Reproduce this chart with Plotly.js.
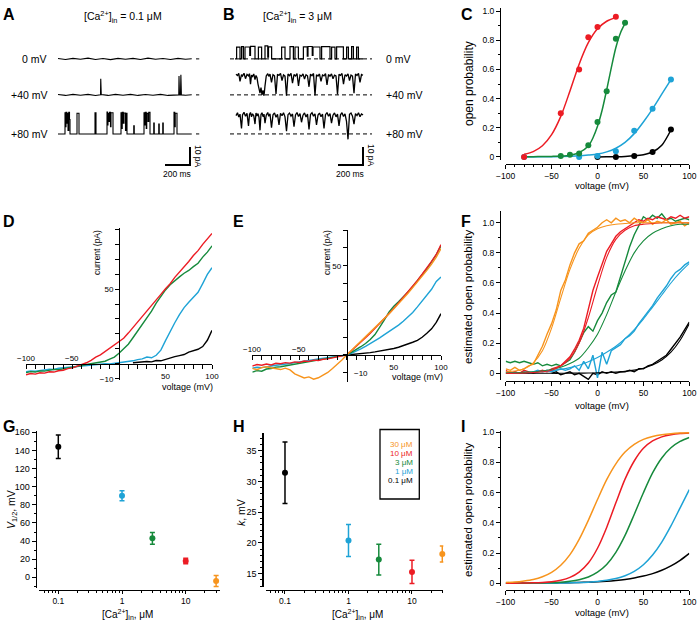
<!DOCTYPE html>
<html>
<head>
<meta charset="utf-8">
<script src="https://cdn.plot.ly/plotly-3.0.1.min.js"></script>
<style>
  html, body { margin: 0; padding: 0; background: #fff; }
  #fig { width: 697px; height: 623px; }
</style>
</head>
<body>
<div id="fig"></div>
<script>
// colours used by every panel
const BLACK = '#000000', CYAN = '#1ea3d6', GREEN = '#168a3c', RED = '#ec1c24', ORANGE = '#f7941d';

// ---- A: single channel records, [Ca2+]in = 0.1 uM (time ms, current pA) ----
const A_T0 = [0, 60, 120, 180, 240, 300, 360, 420, 480, 540, 600, 660, 720, 780, 840, 900, 960, 1020, 1070];
const A_I0 = [0.2, -0.3, 0.3, -0.2, 0.4, -0.3, 0.2, -0.4, 0.3, -0.2, 0.3, -0.3, 0.4, -0.2, 0.2, -0.3, 0.3, -0.2, 0.1];
const A_T40 = [0, 60, 120, 180, 240, 300, 340, 342, 346, 400, 460, 520, 580, 640, 700, 760, 820, 880, 940, 966, 968, 972, 980, 983, 987, 1020, 1070];
const A_I40 = [0.2, -0.3, 0.3, -0.2, 0.3, -0.3, 0.1, 8.9, 0.2, -0.3, 0.3, -0.2, 0.3, -0.3, 0.2, -0.2, 0.3, -0.3, 0.2, 0.0, 10.5, 0.1, 0.0, 11.2, 0.0, -0.2, 0.1];
const A_T80 = [0, 56, 60, 64, 70, 74, 80, 86, 92, 96, 152, 168, 296, 304, 392, 396, 400, 408, 412, 420,
  424, 440, 504, 510, 514, 522, 528, 540, 544, 552, 606, 610, 688, 694, 698, 706, 710, 720, 726, 736,
  766, 770, 806, 810, 838, 842, 928, 934, 938, 952, 1070];
const A_I80 = [0, 11.7, 4, 12, 6, 11.5, 2, 12, 8, 0, 11.5, 0, 11.8, 0, 12.2, 5, 11.5, 7, 12, 4,
  11.8, 0, 11.8, 3, 12, 6, 11.6, 2, 11.5, 0, 4.5, 0, 11.8, 5, 12, 3, 11.4, 7, 12, 0,
  6, 0, 5.5, 0, 6, 0, 12, 4, 11.5, 0, 0];

// ---- B: single channel records, [Ca2+]in = 3 uM ----
const B_T0 = [0, 13, 40, 53, 67, 80, 118, 124, 160, 187, 213, 240, 262, 268, 293, 373, 400, 440, 467, 480,
  507, 547, 578, 584, 618, 624, 680, 693, 760, 773, 800, 813, 867, 893, 907, 933, 947, 973, 987, 1024];
const B_I0 = [0, 6.5, 0, 6.8, 0, 6.6, 2, 7, 0, 6.5, 0, 7.2, 1, 6.7, 0, 6.5, 0, 6.8, 0, 6.6,
  0, 6.7, 1.5, 6.9, 2, 6.6, 0, 6.8, 0, 6.5, 0, 6.7, 0, 6.5, 0, 6.8, 0, 6.5, 0, 0];
const B_T = [8, 20, 30, 40, 52, 60, 72, 84, 96, 108, 116, 124, 132, 140, 150, 160, 168, 176, 184, 192,
  200, 208, 216, 224, 232, 240, 250, 262, 270, 280, 292, 304, 316, 328, 340, 352, 364, 376, 388, 400,
  412, 424, 436, 448, 460, 472, 484, 496, 508, 520, 532, 544, 556, 568, 580, 592, 604, 616, 628, 640,
  652, 664, 676, 688, 700, 712, 724, 736, 748, 760, 772, 784, 796, 808, 820, 832, 844, 856, 868, 880,
  892, 904, 916, 928, 940, 952, 964, 976, 988, 1000, 1012, 1024];
const B_I40 = [11.5, 10.8, 11.9, 7.5, 11.2, 10.5, 12, 9, 11.4, 10.6, 11.8, 6, 11, 10.2, 11.6, 8.5, 10.8, 9.5, 6, 3,
  1, 4, 0, 2.5, -0.5, 5, 10.5, 11.8, 10.3, 11.5, 7, 11.2, 10.6, 0.5, 11.4, 10.8, 11.9, 8, 11.1, 10.4,
  -0.5, 11.6, 10.7, 11.9, 6.5, 11.3, 10.5, 11.8, 5, 11, 10.4, 11.7, 8.8, 11.2, 10.6, 4.5, 11.5, 10.7, 11.9, -0.3,
  11.2, 10.5, 11.6, 7.5, 11.1, 10.6, 11.8, 5.5, 11.3, 10.4, 11.7, 9, 11, 10.5, 0.2, 11.4, 10.8, 11.9, 6, 11.2,
  10.5, 11.7, 8, 11, 10.4, 1, 11.6, 10.8, 11.9, 7, 11.3, 10.9];
const B_I80 = [10.2, 11.8, 9.4, 11, 3, 10.6, 12, 9.8, 11.4, 4.5, 10.8, 11.9, 9.5, 11.2, 10.1, 5.5, 11.6, 10, 11.3, 9.2,
  2, 10.8, 11.8, 9.6, 11, 6, 10.4, 11.9, 9.8, 11.2, 3.5, 10.6, 11.7, 9.3, 10.9, 5, 11.5, 10.1, 11.8, 9.5,
  1.5, 10.7, 11.6, 9.9, 11.1, 4, 10.5, 11.9, 9.7, 11.3, 6.5, 10.4, 11.7, 9.4, 11, 2.5, 10.8, 11.8, 9.9, 11.2,
  5, 10.5, 11.6, 9.6, 11.1, 3, 10.7, 11.9, 9.8, 11.3, 6, 10.4, 11.7, 9.5, 11, 4.5, 10.6, 11.8, 9.7, 11.2,
  7, -3, 10.9, 11.6, 9.9, 5.5, 11.3, 10.2, 11.8, 9.6, 11.1, 10.5];
const REC_LABELS = ['0 mV', '+40 mV', '+80 mV'];
const SCALE_MS = 200, SCALE_PA = 10;

// ---- C: open probability vs voltage ----
const C_V_RED = [-80, -40, -20, -10, 0, 20];
const C_P_RED = [0, 0.30, 0.60, 0.82, 0.89, 0.96];
const C_V_GREEN = [-40, -30, -20, -10, 0, 10, 20, 30];
const C_P_GREEN = [0.007, 0.016, 0.023, 0.08, 0.24, 0.45, 0.81, 0.92];
const C_V_CYAN = [-80, -20, 0, 20, 40, 60, 80];
const C_P_CYAN = [0, 0, 0.007, 0.04, 0.18, 0.33, 0.53];
const C_V_BLACK = [0, 20, 40, 60, 80];
const C_P_BLACK = [0, 0, 0.007, 0.034, 0.188];
const C_FIT_V_RED = [-80, -70, -60, -50, -40, -30, -20, -10, 0, 10, 20];
const C_FIT_RED = [0.018, 0.037, 0.077, 0.153, 0.278, 0.452, 0.636, 0.783, 0.878, 0.93, 0.956];
const C_FIT_V_GREEN = [-80, -70, -60, -50, -40, -30, -20, -10, -5, 0, 5, 10, 15, 20, 25, 30];
const C_FIT_GREEN = [0.001, 0.002, 0.003, 0.004, 0.006, 0.012, 0.03, 0.075, 0.13, 0.21, 0.32, 0.46, 0.61, 0.75, 0.85, 0.915];
const C_FIT_V_CYAN = [-80, -60, -40, -20, -10, 0, 10, 20, 30, 40, 50, 60, 70, 80];
const C_FIT_CYAN = [0, 0.001, 0.003, 0.008, 0.013, 0.02, 0.035, 0.06, 0.1, 0.16, 0.24, 0.33, 0.43, 0.53];
const C_FIT_V_BLACK = [0, 10, 20, 30, 40, 50, 60, 70, 80];
const C_FIT_BLACK = [0, 0.001, 0.002, 0.004, 0.008, 0.016, 0.034, 0.08, 0.185];

// ---- D, E, F: ramp currents, sampled every 5 mV ----
const V5 = [-100, -95, -90, -85, -80, -75, -70, -65, -60, -55, -50, -45, -40, -35, -30, -25, -20, -15, -10, -5,
  0, 5, 10, 15, 20, 25, 30, 35, 40, 45, 50, 55, 60, 65, 70, 75, 80, 85, 90, 95, 100];
const D_RED = [-7.2, -6.4, -6.8, -5.9, -6.1, -5.2, -5.4, -4.5, -4.2, -3.1, -2.6, -1.5, -0.6, 0.8, 2.4, 4.6, 6.1, 8.3, 10.2, 12.1,
  14.3, 17.1, 20.6, 24.2, 27.8, 31.3, 35.6, 39.1, 42.6, 46.4, 50.2, 53.5, 57.8, 61.1, 64.9, 68.4, 72.3, 75.6, 79.8, 83.4, 87.1];
const D_GREEN = [-5.8, -5.1, -5.4, -4.6, -4.8, -4.1, -3.6, -3.9, -3.0, -2.6, -2.2, -1.4, -1.1, -0.4, 0.2, 0.5, 1.3, 1.8, 3.2, 4.6,
  7.1, 10.4, 13.2, 17.5, 21.8, 26.4, 30.9, 35.2, 40.6, 45.3, 49.4, 52.8, 55.6, 58.1, 60.5, 62.4, 64.9, 67.2, 71.3, 74.6, 78.8];
const D_CYAN = [-5.2, -4.6, -4.9, -4.2, -4.0, -3.5, -3.7, -2.9, -2.6, -2.3, -1.9, -1.6, -1.2, -1.0, -0.7, -0.5, -0.2, 0.1, 0.0, 0.4,
  0.6, 1.0, 1.6, 2.1, 2.9, 3.4, 4.6, 4.1, 5.8, 9.2, 15.6, 21.8, 27.5, 32.9, 37.6, 41.2, 44.5, 47.8, 53.6, 59.7, 64.2];
const D_BLACK = [0.8, 1.1, 0.9, 1.6, 1.4, 2.3, 2.1, 3.2, 3.8, 4.9, 5.6, 6.3, 7.9, 8.6, 9.8, 11.6, 15.8, 22.4];  // 15..100 mV

const E_RED = [-6.2, -5.4, -5.8, -5.1, -5.6, -4.7, -4.9, -4.3, -4.6, -3.9, -4.2, -3.4, -3.6, -2.9, -3.1, -2.4, -2.2, -1.6, -1.2, -0.5,
  0, 2.3, 4.6, 7.1, 9.6, 12.2, 14.8, 17.5, 20.3, 23.2, 26.1, 29.2, 32.1, 35.4, 38.6, 41.8, 45.2, 48.6, 52.4, 56.3, 61.8];
const E_ORANGE = [-7.5, -8.3, -7.1, -6.6, -7.2, -7.6, -8.2, -7.4, -8.4, -10.6, -11.8, -12.9, -12.3, -13.6, -12.8, -11.4, -9.8, -7.6, -5.4, -2.8,
  0, 2.8, 5.2, 7.6, 10.1, 12.6, 15.1, 17.8, 20.4, 23.1, 25.8, 28.6, 31.5, 34.6, 37.7, 40.8, 44.1, 47.4, 50.9, 54.8, 59.6];
const E_GREEN = [-9.6, -8.8, -9.1, -7.9, -7.6, -6.8, -6.6, -6.1, -5.8, -5.2, -4.9, -4.3, -4.0, -3.4, -2.9, -2.4, -1.9, -1.4, -0.9, -0.4,
  0, 1.4, 2.9, 4.6, 6.4, 8.6, 11.4, 15.2, 19.6, 24.1, 27.3, 29.8, 32.4, 35.3, 38.2, 41.4, 44.8, 48.3, 52.1, 56.2, 61.1];
const E_CYAN = [-7.4, -6.9, -7.1, -6.5, -6.2, -5.8, -5.6, -5.1, -4.8, -4.3, -4.0, -3.6, -3.2, -2.7, -2.3, -1.9, -1.4, -1.0, -0.7, -0.3,
  0, 0.9, 2.0, 3.4, 4.8, 6.3, 7.9, 9.6, 11.4, 13.1, 14.8, 16.7, 18.9, 21.2, 23.8, 26.9, 30.2, 33.4, 36.8, 41.2, 43.6];
const E_BLACK = [0, 0.2, 0.4, 0.6, 0.9, 1.3, 1.7, 2.1, 2.5, 3.0, 3.6, 4.3, 5.1, 6.0, 7.1, 8.2, 9.9, 12.1, 14.6, 18.2, 23.1];  // 0..100 mV

const F_ORANGE = [0.03, 0.02, 0.04, 0.02, 0.03, 0.05, 0.06, 0.12, 0.18, 0.26, 0.33, 0.42, 0.55, 0.62, 0.72, 0.80, 0.86, 0.88, 0.93, 0.95,
  0.97, 1.0, 1.02, 1.0, 1.03, 1.01, 1.02, 1.0, 1.03, 1.01, 1.0, 1.02, 0.99, 1.01, 1.0, 1.02, 0.99, 1.0, 1.01, 0.98, 1.0];
const F_RED = [0.02, 0.0, 0.01, 0.0, 0.02, 0.01, 0.0, 0.01, 0.02, 0.01, 0.03, 0.04, 0.05, 0.08, 0.11, 0.16, 0.22, 0.30, 0.42, 0.55,
  0.64, 0.72, 0.81, 0.86, 0.91, 0.94, 0.96, 0.98, 1.0, 1.02, 1.01, 1.03, 1.02, 1.04, 1.03, 1.02, 1.04, 1.03, 1.05, 1.03, 1.04];
const F_GREEN = [0.08, 0.07, 0.08, 0.07, 0.08, 0.07, 0.06, 0.07, 0.05, 0.06, 0.05, 0.06, 0.05, 0.07, 0.09, 0.14, 0.21, 0.27, 0.31, 0.28,
  0.35, 0.40, 0.47, 0.52, 0.54, 0.64, 0.74, 0.84, 0.92, 0.98, 1.04, 1.02, 1.05, 1.03, 1.06, 1.02, 1.03, 1.01, 1.02, 1.03, 1.02];
const F_CYAN = [0.01, 0.0, 0.01, 0.0, 0.01, 0.0, 0.01, 0.02, 0.01, 0.02, 0.01, 0.02, 0.03, 0.02, 0.03, 0.05, 0.02, 0.08, 0.03, 0.12,
  -0.03, 0.14, 0.06, 0.15, 0.17, 0.19, 0.23, 0.25, 0.28, 0.33, 0.37, 0.41, 0.45, 0.50, 0.54, 0.58, 0.63, 0.67, 0.69, 0.72, 0.74];
const F_BLACK = [0.0, 0.01, -0.01, 0.0, 0.01, -0.01, 0.0, -0.02, -0.04, 0.0, -0.01, 0.01, 0.0, 0.01, 0.0, 0.01, 0.01, 0.02, 0.01, 0.03,
  0.03, 0.05, 0.06, 0.08, 0.1, 0.12, 0.16, 0.2, 0.24, 0.29, 0.34];  // -50..100 mV

// ---- F and I: fitted curves, sampled every 10 mV ----
const V10 = [-100, -90, -80, -70, -60, -50, -40, -30, -20, -10, 0, 10, 20, 30, 40, 50, 60, 70, 80, 90, 100];
const F_FIT_ORANGE = [0.01, 0.015, 0.03, 0.07, 0.15, 0.3, 0.5, 0.69, 0.83, 0.92, 0.96, 0.98, 0.99, 0.995, 1, 1, 1, 1, 1, 1, 1];
const F_FIT_RED = [0, 0, 0.002, 0.005, 0.01, 0.02, 0.05, 0.1, 0.2, 0.37, 0.58, 0.77, 0.89, 0.95, 0.98, 0.99, 0.995, 1, 1, 1, 1];
const F_FIT_GREEN = [0.003, 0.004, 0.006, 0.01, 0.015, 0.025, 0.04, 0.065, 0.1, 0.17, 0.26, 0.39, 0.54, 0.68, 0.8, 0.88, 0.93, 0.96, 0.98, 0.99, 0.99];
const F_FIT_CYAN = [0.002, 0.003, 0.005, 0.008, 0.012, 0.018, 0.026, 0.038, 0.054, 0.077, 0.105, 0.14, 0.18, 0.23, 0.29, 0.36, 0.44, 0.52, 0.6, 0.67, 0.73];
const F_FIT_BLACK = [0, 0, 0, 0, 0, 0, 0, 0.001, 0.001, 0.002, 0.003, 0.005, 0.008, 0.013, 0.021, 0.034, 0.055, 0.088, 0.14, 0.22, 0.33];

const I_ORANGE = [0.005, 0.008, 0.015, 0.025, 0.043, 0.072, 0.119, 0.19, 0.291, 0.417, 0.555, 0.686, 0.791, 0.869, 0.92, 0.953, 0.972, 0.984, 0.991, 0.995, 0.997];
const I_RED = [0.0004, 0.0007, 0.0015, 0.0028, 0.0055, 0.0106, 0.0205, 0.039, 0.074, 0.134, 0.232, 0.37, 0.533, 0.69, 0.81, 0.894, 0.943, 0.97, 0.984, 0.992, 0.996];
const I_GREEN = [0.0002, 0.0004, 0.0007, 0.0013, 0.0023, 0.0042, 0.0075, 0.0135, 0.024, 0.042, 0.074, 0.125, 0.205, 0.317, 0.456, 0.6, 0.731, 0.83, 0.898, 0.94, 0.966];
const I_CYAN = [0.0001, 0.0002, 0.0002, 0.0004, 0.0006, 0.001, 0.0017, 0.0028, 0.0045, 0.0074, 0.012, 0.0195, 0.031, 0.05, 0.079, 0.123, 0.187, 0.273, 0.38, 0.5, 0.62];
const I_BLACK = [0.0004, 0.0006, 0.0008, 0.0011, 0.0015, 0.0021, 0.0029, 0.0039, 0.0054, 0.0074, 0.01, 0.0138, 0.019, 0.0258, 0.035, 0.048, 0.064, 0.086, 0.115, 0.152, 0.198];

// ---- G, H: Boltzmann parameters vs [Ca2+]in ----
const CA_CONC = [0.1, 1, 3, 10, 30];
const CA_COLORS = [BLACK, CYAN, GREEN, RED, ORANGE];
const V_HALF = [144, 90, 43, 18, -4];
const V_HALF_ERR = [13, 5.5, 6.5, 3, 6];
const K_SLOPE = [31.4, 20.4, 17.3, 15.3, 18.2];
const K_ERR = [5, 2.6, 2.5, 1.9, 1.3];
const LOG_TICKS = [0.1, 1, 10];
const LEGEND_LABELS = ['0.1 \u03bcM', '1 \u03bcM', '3 \u03bcM', '10 \u03bcM', '30 \u03bcM'];

// ---------------------------------------------------------------------------
const W = 697, H = 623;
const px = v => v / W;          // pixel -> paper x
const py = v => 1 - v / H;      // pixel -> paper y
const FONT = 'Liberation Sans, Arial, Helvetica, sans-serif';

const traces = [];
function line(x, y, n, color, o) {
  traces.push(Object.assign({
    x: x, y: y, xaxis: 'x' + n, yaxis: 'y' + n, type: 'scatter', mode: 'lines',
    line: { color: color, width: 1.4 }, hoverinfo: 'skip'
  }, o || {}));
}
function shift(arr, d) { return arr.map(v => v + d); }

// A and B records, stacked with baseline offsets
const REC_OFFSET = [41.7, 21.7, 0];
line(A_T0, shift(A_I0, REC_OFFSET[0]), '', BLACK, { line: { color: BLACK, width: 1.1 } });
line(A_T40, shift(A_I40, REC_OFFSET[1]), '', BLACK, { line: { color: BLACK, width: 1.1 } });
line(A_T80, shift(A_I80, REC_OFFSET[2]), '', BLACK, { line: { color: BLACK, width: 1.1, shape: 'hv' } });
REC_OFFSET.forEach(o => line([1104, 1130], [o, o], '', BLACK, { line: { color: BLACK, width: 1 } }));
line([1056 - SCALE_MS, 1056, 1056], [-17.2, -17.2, -17.2 + SCALE_PA], '', BLACK, { line: { color: BLACK, width: 2 } });

REC_OFFSET.forEach(o => line([-40, 1096], [o, o], '2', BLACK, { line: { color: BLACK, width: 1, dash: '4px,3px' } }));
line(B_T0, shift(B_I0, REC_OFFSET[0]), '2', BLACK, { line: { color: BLACK, width: 1.2, shape: 'hv' } });
line(B_T, shift(B_I40, REC_OFFSET[1]), '2', BLACK, { line: { color: BLACK, width: 1.3 } });
line(B_T, shift(B_I80, REC_OFFSET[2]), '2', BLACK, { line: { color: BLACK, width: 1.3 } });
line([1024 - SCALE_MS, 1024, 1024], [-17.2, -17.2, -17.2 + SCALE_PA], '2', BLACK, { line: { color: BLACK, width: 2 } });

// C
const smooth = { shape: 'spline', smoothing: 0.8, width: 1.5 };
[[C_FIT_V_BLACK, C_FIT_BLACK, BLACK], [C_FIT_V_CYAN, C_FIT_CYAN, CYAN],
 [C_FIT_V_GREEN, C_FIT_GREEN, GREEN], [C_FIT_V_RED, C_FIT_RED, RED]].forEach(s =>
  line(s[0], s[1], '3', s[2], { line: Object.assign({ color: s[2] }, smooth), cliponaxis: false }));
[[C_V_BLACK, C_P_BLACK, BLACK], [C_V_CYAN, C_P_CYAN, CYAN],
 [C_V_GREEN, C_P_GREEN, GREEN], [C_V_RED, C_P_RED, RED]].forEach(s =>
  line(s[0], s[1], '3', s[2], { mode: 'markers', marker: { color: s[2], size: 6 }, cliponaxis: false }));

// D
line(V5.slice(V5.length - D_BLACK.length), D_BLACK, '4', BLACK);
line(V5, D_CYAN, '4', CYAN);
line(V5, D_GREEN, '4', GREEN);
line(V5, D_RED, '4', RED);

// E
line(V5.slice(V5.length - E_BLACK.length), E_BLACK, '5', BLACK);
line(V5, E_CYAN, '5', CYAN);
line(V5, E_GREEN, '5', GREEN);
line(V5, E_RED, '5', RED);
line(V5, E_ORANGE, '5', ORANGE);

// F: ramp estimates plus fits
line(V5.slice(V5.length - F_BLACK.length), F_BLACK, '6', BLACK);
line(V5, F_CYAN, '6', CYAN);
line(V5, F_GREEN, '6', GREEN);
line(V5, F_RED, '6', RED);
line(V5, F_ORANGE, '6', ORANGE);
[[F_FIT_BLACK, BLACK], [F_FIT_CYAN, CYAN], [F_FIT_GREEN, GREEN], [F_FIT_RED, RED], [F_FIT_ORANGE, ORANGE]].forEach(s =>
  line(V10, s[0], '6', s[1], { line: { color: s[1], width: 1.1, shape: 'spline', smoothing: 0.8 } }));

// G, H: one trace per concentration so each error bar keeps its colour
CA_CONC.forEach((c, i) => {
  const pt = { mode: 'markers', marker: { color: CA_COLORS[i], size: 6 }, cliponaxis: false };
  line([c], [V_HALF[i]], '7', CA_COLORS[i], Object.assign({}, pt,
    { error_y: { type: 'data', array: [V_HALF_ERR[i]], color: CA_COLORS[i], thickness: 1.5, width: 2.5 } }));
  line([c], [K_SLOPE[i]], '8', CA_COLORS[i], Object.assign({}, pt,
    { error_y: { type: 'data', array: [K_ERR[i]], color: CA_COLORS[i], thickness: 1.5, width: 2.5 } }));
});

// I
[[I_BLACK, BLACK], [I_CYAN, CYAN], [I_GREEN, GREEN], [I_RED, RED], [I_ORANGE, ORANGE]].forEach(s =>
  line(V10, s[0], '9', s[1], { line: { color: s[1], width: 1.5, shape: 'spline', smoothing: 0.8 } }));

// ---------------------------------------------------------------------------
const AX = {
  showgrid: false, zeroline: false, showline: true, linecolor: '#000', linewidth: 1.2,
  ticks: 'outside', ticklen: 4, tickwidth: 1, tickcolor: '#000',
  tickfont: { size: 8.5, color: '#000', family: FONT }, fixedrange: true, anchor: 'free'
};
const axis = o => Object.assign({}, AX, o);
const minor = d => ({ ticks: 'outside', ticklen: 2, tickwidth: 1, tickcolor: '#000', dtick: d, showgrid: false });
const hidden = (dom, rng) => ({ visible: false, domain: dom, range: rng, fixedrange: true });

// tick arrays for the crossed axes, only some ticks carry a label
function ticks(from, to, step, shown) {
  const vals = [], text = [];
  for (let v = from; v <= to; v += step) {
    vals.push(v);
    text.push(shown.indexOf(v) >= 0 ? String(v).replace('-', '\u2212') : '');
  }
  return { tickmode: 'array', tickvals: vals, ticktext: text };
}

const probY = { tick0: 0, dtick: 0.2, minor: minor(0.1), labelalias: { '1': '1.0' } };
const voltX = { range: [-100, 100], tick0: 0, dtick: 50, minor: minor(10) };
const logX = { type: 'log', tickmode: 'array', tickvals: LOG_TICKS, ticktext: LOG_TICKS.map(String),
  ticklen: 3, minor: minor('D1'), tickfont: { size: 8.5, color: '#000', family: FONT } };

const layout = {
  width: W, height: H, margin: { l: 0, r: 0, t: 0, b: 0 },
  paper_bgcolor: '#fff', plot_bgcolor: 'rgba(0,0,0,0)', showlegend: false,
  font: { family: FONT, color: '#000', size: 9 },
  xaxis: hidden([px(50), px(205)], [-64, 1176]),
  yaxis: hidden([py(180), py(40)], [-25.6, 52.2]),
  xaxis2: hidden([px(222), px(380)], [-104, 1160]),
  yaxis2: hidden([py(180), py(40)], [-25.6, 52.2]),
  xaxis3: axis(Object.assign({ domain: [px(505.7), px(689.3)], position: py(164) }, voltX)),
  yaxis3: axis(Object.assign({ domain: [py(159.9), py(8.1)], range: [-0.02, 1.02], position: px(500) }, probY)),
  xaxis4: axis(Object.assign({ domain: [px(26), px(212)], range: [-100, 100], position: py(364),
    tickfont: { size: 8, color: '#000', family: FONT } }, ticks(-100, 100, 10, [50, 100]))),
  yaxis4: axis(Object.assign({ domain: [py(380), py(228)], range: [-10.7, 90.7], position: px(119),
    tickfont: { size: 8, color: '#000', family: FONT } }, ticks(-10, 90, 10, [-10, 50]))),
  xaxis5: axis(Object.assign({ domain: [px(252.3), px(441)], range: [-100, 100], position: py(355),
    tickfont: { size: 8, color: '#000', family: FONT } }, ticks(-100, 100, 10, [50, 100]))),
  yaxis5: axis(Object.assign({ domain: [py(381.7), py(230)], range: [-15, 70], position: px(346.7),
    tickfont: { size: 8, color: '#000', family: FONT } }, ticks(-10, 70, 10, [50]))),
  xaxis6: axis(Object.assign({ domain: [px(505.7), px(689.3)], position: py(380.5) }, voltX)),
  yaxis6: axis(Object.assign({ domain: [py(380.1), py(210.7)], range: [-0.045, 1.08], position: px(500) }, probY)),
  xaxis7: axis(Object.assign({ domain: [px(39.3), px(220)], range: [-1.298, 1.538], position: py(590) }, logX)),
  yaxis7: axis({ domain: [py(588.2), py(430.5)], range: [-12, 162], position: px(35.7), tick0: 0, dtick: 20,
    minor: minor(10), tickfont: { size: 9, color: '#000', family: FONT } }),
  xaxis8: axis(Object.assign({ domain: [px(266), px(443.3)], range: [-1.299, 1.493], position: py(590) }, logX)),
  yaxis8: axis({ domain: [py(586.7), py(432.7)], range: [12.9, 37.9], position: px(262.3), tick0: 0, dtick: 5,
    minor: minor(1), tickfont: { size: 9, color: '#000', family: FONT } }),
  xaxis9: axis(Object.assign({ domain: [px(505.7), px(689.3)], position: py(590) }, voltX)),
  yaxis9: axis(Object.assign({ domain: [py(586.3), py(430.8)], range: [-0.02, 1.01], position: px(500) }, probY)),
  shapes: [{ type: 'rect', xref: 'paper', yref: 'paper', x0: px(380), x1: px(419.3), y0: py(499), y1: py(429.5),
    line: { color: '#000', width: 1.3 } }],
  annotations: []
};

function note(text, x, y, o) {
  layout.annotations.push(Object.assign({
    text: text, xref: 'paper', yref: 'paper', x: px(x), y: py(y), showarrow: false,
    xanchor: 'center', yanchor: 'middle', font: { size: 9, color: '#000', family: FONT }
  }, o || {}));
}
const fs = (s, c) => ({ size: s, color: c || '#000', family: FONT });

// panel letters
[['A', 1, 4], ['B', 221, 4], ['C', 459, 4], ['D', 1, 211], ['E', 231, 211], ['F', 459, 211],
 ['G', 1, 416], ['H', 231, 416], ['I', 459, 416]].forEach(l =>
  note('<b>' + l[0] + '</b>', l[1], l[2], { xanchor: 'left', yanchor: 'top', font: fs(16) }));

// A, B texts
note('[Ca<sup>2+</sup>]<sub>in</sub> = 0.1 \u03bcM', 123, 17, { font: fs(10.5) });
note('[Ca<sup>2+</sup>]<sub>in</sub> = 3 \u03bcM', 297, 17, { font: fs(10.5) });
const recY = [59, 95, 134];
REC_LABELS.forEach((t, i) => {
  note(t, 49, recY[i], { xanchor: 'right', font: fs(10.5) });
  note(t, 384, recY[i], { xanchor: 'left', font: fs(10.5) });
});
note(SCALE_MS + ' ms', 177, 174, { font: fs(8.5) });
note(SCALE_PA + ' pA', 198, 156, { textangle: 90, font: fs(8.5) });
note(SCALE_MS + ' ms', 350, 174, { font: fs(8.5) });
note(SCALE_PA + ' pA', 371, 156, { textangle: 90, font: fs(8.5) });

// axis titles
note('open probability', 469, 84, { textangle: -90, font: fs(12) });
note('voltage (mV)', 602, 185, { font: fs(9.5) });
note('current (pA)', 97, 253, { textangle: -90, font: fs(8.5) });
note('voltage (mV)', 187, 387, { font: fs(9) });
note('\u2212100', 26, 358, { font: fs(8) });
note('\u221250', 72, 358, { font: fs(8) });
note('current (pA)', 327, 253, { textangle: -90, font: fs(8.5) });
note('voltage (mV)', 417, 377, { font: fs(9) });
note('\u2212100', 252, 349, { font: fs(8) });
note('\u221250', 299, 349, { font: fs(8) });
note('\u221210', 352, 373, { xanchor: 'left', font: fs(8) });
note('estimated open probability', 468, 297, { textangle: -90, font: fs(11.5) });
note('voltage (mV)', 602, 405, { font: fs(9.5) });
note('<i>V</i><sub>1/2</sub>, mV', 12, 510, { textangle: -90, font: fs(10.5) });
note('[Ca<sup>2+</sup>]<sub>in</sub>, \u03bcM', 127, 614, { font: fs(10) });
note('<i>k</i>, mV', 241, 513, { textangle: -90, font: fs(10.5) });
note('[Ca<sup>2+</sup>]<sub>in</sub>, \u03bcM', 357, 614, { font: fs(10) });
note('estimated open probability', 468, 510, { textangle: -90, font: fs(11.5) });
note('voltage (mV)', 602, 612, { font: fs(9.5) });

// legend of panel H, highest concentration on top
const legendY = [480.7, 471, 462.3, 453.3, 444];
LEGEND_LABELS.forEach((t, i) => note(t, 415, legendY[i], { xanchor: 'right', font: fs(8, CA_COLORS[i]) }));

Plotly.newPlot('fig', traces, layout, { displayModeBar: false, staticPlot: true });
</script>
</body>
</html>
